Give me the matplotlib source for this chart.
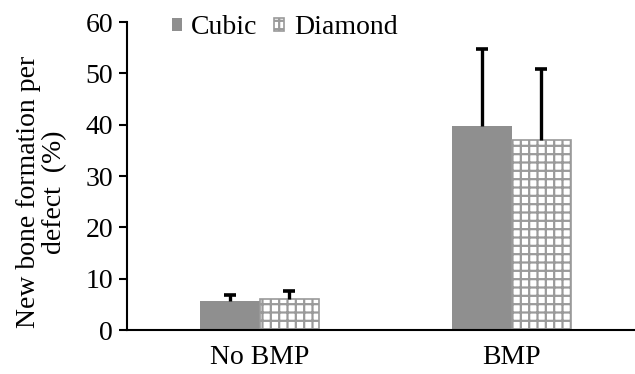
import matplotlib.pyplot as plt
import numpy as np

# New bone formation per defect (%), mean with upper error only
groups = ["No BMP", "BMP"]
cubic = [5.7, 39.8]
cubic_err = [1.1, 14.9]
diamond = [6.0, 37.0]
diamond_err = [1.6, 13.8]

plt.rcParams["font.family"] = "serif"
plt.rcParams["font.serif"] = ["Liberation Serif", "DejaVu Serif"]
plt.rcParams["hatch.linewidth"] = 1.6

grey = "#8f8f8f"
fig = plt.figure(figsize=(6.35, 3.74), dpi=100)
ax = fig.add_axes([0.2, 0.1176, 0.8, 0.8235])

x = np.arange(len(groups))
w = 0.236

ax.bar(x - w / 2, cubic, width=w, color=grey, linewidth=0, label="Cubic", zorder=2)
ax.bar(x + w / 2, diamond, width=w, color="white", edgecolor="#9a9a9a",
       linewidth=1.2, hatch="++", label="Diamond", zorder=2)

err_style = dict(fmt="none", ecolor="black", elinewidth=2.4, capsize=4,
                 capthick=2.6, zorder=3)
for xs, ys, es in [(x - w / 2, cubic, cubic_err), (x + w / 2, diamond, diamond_err)]:
    eb = ax.errorbar(xs, ys, yerr=[np.zeros(len(ys)), es], **err_style)
    # only the upper cap is kept
    eb[1][0].set_visible(False)

ax.set_xlim(-0.526, 1.49)
ax.set_ylim(0, 60)
ax.set_yticks(range(0, 61, 10))
ax.set_xticks(x)
ax.set_xticklabels(groups)

ax.spines["top"].set_visible(False)
ax.spines["right"].set_visible(False)
ax.spines["left"].set_linewidth(1.5)
ax.spines["bottom"].set_linewidth(1.5)
ax.tick_params(axis="y", direction="out", length=6, width=1.5, labelsize=20, pad=4)
ax.tick_params(axis="x", length=0, labelsize=20, pad=11)

ax.set_ylabel("New bone formation per\ndefect  (%)", fontsize=20, linespacing=1.05)
ax.yaxis.set_label_coords(-0.118, 0.448)

ax.legend(loc="upper left", bbox_to_anchor=(0.066, 1.058), ncol=2, frameon=False,
          fontsize=20, handlelength=0.36, handleheight=0.36, handletextpad=0.35,
          columnspacing=0.6, borderaxespad=0)

fig.savefig("out.png", dpi=100)
